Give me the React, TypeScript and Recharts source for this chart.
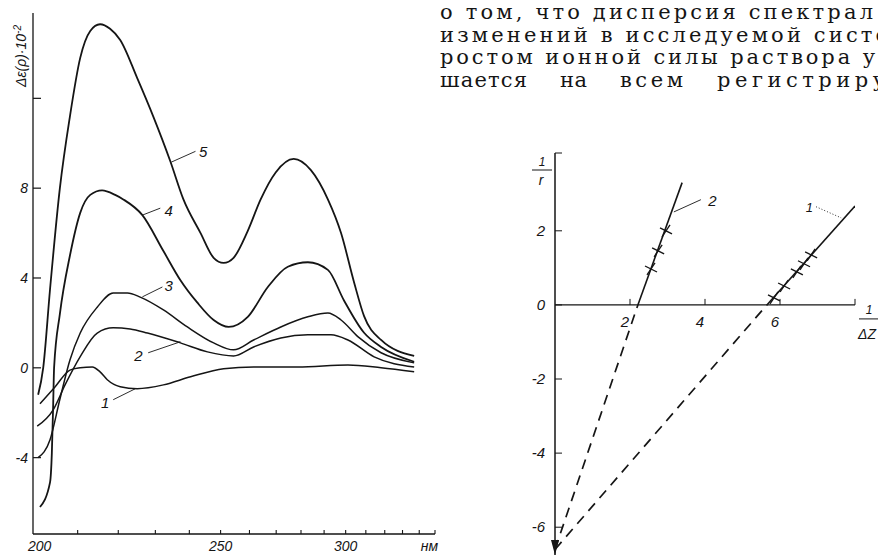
import React from 'react';
import {
  LineChart,
  ComposedChart,
  Line,
  Scatter,
  XAxis,
  YAxis,
  ReferenceLine,
  ReferenceDot,
} from 'recharts';

// ---------------- left chart: spectra, x in nm (axis linear in wavenumber) ----------------
const nmTicks = [200, 210, 220, 230, 240, 250, 260, 270, 280, 290, 300, 310, 320, 330, 340, 350];
const nmTickLabels = ['200', '', '', '', '', '250', '', '', '', '', '300', '', '', '', '', 'нм'];
const epsTicks = [12, 8, 4, 0, -4];
const epsTickLabels = ['', '8', '4', '0', '-4'];

const curve1Nm = [201.5, 204.8, 208.2, 210.6, 213.5, 215.4, 217.2, 220.5, 225.0, 232.3, 240.4, 251.0, 261.5, 278.7, 301.1, 318.0, 336.9];
const curve1Val = [-1.6, -0.85, -0.1, 0, 0.04, -0.18, -0.53, -0.84, -0.93, -0.76, -0.4, -0.04, 0.04, 0.04, 0.13, 0, -0.18];

const curve2Nm = [200.9, 204.4, 207.1, 210.6, 214.7, 218.7, 223.1, 227.8, 237.3, 245.7, 254.4, 261.5, 271.8, 282.9, 293.1, 301.1, 314.3, 336.9];
const curve2Val = [-2.6, -1.87, -0.75, 0.5, 1.55, 1.78, 1.73, 1.55, 1.11, 0.71, 0.53, 0.93, 1.33, 1.47, 1.47, 1.24, 0.49, 0.04];

const curve3Nm = [201.1, 203.7, 205.9, 208.2, 210.6, 214.7, 218.7, 222.4, 225.8, 232.3, 239.4, 247.7, 254.4, 261.5, 271.8, 282.9, 291.7, 297.8, 306.1, 318.0, 336.9];
const curve3Val = [-4.0, -3.2, -1.4, 0.35, 1.55, 2.7, 3.33, 3.33, 3.15, 2.58, 1.82, 1.11, 0.8, 1.24, 1.82, 2.27, 2.44, 2.13, 1.38, 0.67, 0.22];

const curve4Nm = [201.5, 203.7, 204.1, 204.4, 204.6, 205.9, 208.2, 210.6, 213.0, 215.9, 219.2, 221.3, 226.4, 232.3, 237.3, 242.5, 247.7, 252.7, 259.4, 266.8, 274.6, 282.9, 291.7, 299.2, 309.1, 318.0, 336.9];
const curve4Val = [-6.2, -5.1, -3.8, -1.6, 0, 2.4, 5.0, 6.9, 7.7, 7.9, 7.7, 7.5, 6.8, 5.2, 3.9, 2.9, 2.13, 1.82, 2.27, 3.6, 4.5, 4.7, 4.36, 3.0, 1.56, 0.93, 0.27];

const curve5Nm = [201.1, 202.2, 203.7, 205.9, 208.2, 210.6, 213.0, 215.4, 217.9, 220.5, 225.0, 229.4, 234.3, 238.2, 243.5, 247.7, 251.0, 254.4, 259.4, 264.1, 269.8, 277.0, 284.2, 291.7, 297.8, 304.1, 309.1, 318.0, 336.9];
const curve5Val = [-1.2, 0, 3.5, 8.0, 11.2, 13.8, 15.0, 15.3, 15.1, 14.6, 12.9, 11.2, 9.2, 7.5, 6.0, 4.9, 4.67, 4.9, 6.1, 7.5, 8.7, 9.3, 8.8, 7.5, 6.0, 3.8, 2.3, 1.24, 0.53];

const curveNames = ['1', '2', '3', '4', '5'];
// leader lines for curve numbers (nm, value)
const leaderFromNm = [224.5, 237.3, 226.4, 226.4, 234.6];
const leaderFromVal = [-0.93, 1.16, 3.16, 6.8, 9.16];
const leaderToNm = [218.7, 228.0, 232.0, 231.4, 241.9];
const leaderToVal = [-1.42, 0.67, 3.6, 7.11, 9.64];
const labelNm = [216.7, 225.3, 233.8, 233.8, 244.3];
const labelVal = [-1.56, 0.53, 3.64, 7.0, 9.6];

// ---------------- right chart: 1/r vs 1/Δ ----------------
const rYTicks = [2, 0, -2, -4, -6];
const rXTicks = [2, 4, 6];

const line2SolidX = [2.21, 3.39];
const line2SolidY = [0, 3.3];
const line2DashX = [0, 2.21];
const line2DashY = [-6.6, 0];
const line2MarkX = [2.56, 2.75, 2.96];
const line2MarkY = [0.97, 1.46, 2.0];

const line1SolidX = [5.65, 8.0];
const line1SolidY = [0, 2.67];
const line1DashX = [0, 5.65];
const line1DashY = [-6.6, 0];
const line1MarkX = [5.84, 6.11, 6.45, 6.64, 6.83];
const line1MarkY = [0.19, 0.51, 0.89, 1.11, 1.35];

// ---------------- page text ----------------
const textLines = [
  'о том, что дисперсия спектрал',
  'изменений в исследуемой систе',
  'ростом ионной силы раствора у',
];
const lastLineWords = ['шается', 'на', 'всем', 'регистриру'];

// ---------------- helpers ----------------
const INK = '#151515';
const AXIS_FONT = '"Liberation Sans", "DejaVu Sans", sans-serif';
const SERIF = '"DejaVu Serif", "Liberation Serif", serif';

const spectrum = (nm: number[], v: number[]) => nm.map((n, i) => ({ nm: n, v: v[i] }));
const pairs = (xs: number[], ys: number[]) => xs.map((x, i) => ({ x, y: ys[i] }));
const nu = (nm: number) => 1e4 / nm;

const spectra = [
  spectrum(curve1Nm, curve1Val),
  spectrum(curve2Nm, curve2Val),
  spectrum(curve3Nm, curve3Val),
  spectrum(curve4Nm, curve4Val),
  spectrum(curve5Nm, curve5Val),
];

const LeftYTick = (p: any) => {
  const { x, y, payload } = p;
  const i = epsTicks.indexOf(payload.value);
  return (
    <g>
      <line x1={x} y1={y} x2={x + 8} y2={y} stroke={INK} strokeWidth={1.2} />
      <text x={x - 5} y={y} dy={5} textAnchor="end" fontFamily={AXIS_FONT} fontStyle="italic" fontSize={14} fill={INK}>
        {epsTickLabels[i]}
      </text>
    </g>
  );
};

const LeftXTick = (p: any) => {
  const { x, y, payload } = p;
  const nm = Math.round(1e4 / payload.value);
  const i = nmTicks.indexOf(nm);
  const last = nmTicks.length - 1;
  const anchor = i === 0 ? 'start' : i === last ? 'end' : 'middle';
  const dx = i === 0 ? -5 : i === last ? 3 : 0;
  return (
    <g>
      {i > 0 && <line x1={x} y1={y} x2={x} y2={y - 4} stroke={INK} strokeWidth={1.1} />}
      <text x={x + dx} y={y + 17} textAnchor={anchor} fontFamily={AXIS_FONT} fontStyle="italic" fontSize={14} fill={INK}>
        {nmTickLabels[i]}
      </text>
    </g>
  );
};

const RightYTick = (p: any) => {
  const { x, y, payload } = p;
  return (
    <g>
      <line x1={x} y1={y} x2={x + 7} y2={y} stroke={INK} strokeWidth={1} />
      <text x={x - 10} y={y} dy={5} textAnchor="end" fontFamily={AXIS_FONT} fontStyle="italic" fontSize={15} fill={INK}>
        {payload.value}
      </text>
    </g>
  );
};

const Cross = (p: any) => {
  const { cx, cy } = p;
  return (
    <g stroke={INK} strokeWidth={1.3}>
      <line x1={cx - 6} y1={cy - 3} x2={cx + 6} y2={cy + 3} />
      <line x1={cx - 4} y1={cy + 6} x2={cx + 4} y2={cy - 6} />
    </g>
  );
};

export default function App() {
  return (
    <div style={{ position: 'absolute', left: 0, top: 0, width: 878, height: 557, background: '#fff', overflow: 'hidden' }}>
      {/* left chart */}
      <div style={{ position: 'absolute', left: 0, top: 0 }}>
        <LineChart width={450} height={557} margin={{ top: 13, right: 15, bottom: 22, left: 32 }}>
          <XAxis
            type="number"
            dataKey={(d: any) => nu(d.nm)}
            domain={[nu(350), nu(200)]}
            reversed
            allowDataOverflow
            ticks={nmTicks.map(nu)}
            interval={0}
            height={1}
            tickSize={0}
            tickMargin={0}
            tickLine={false}
            tick={<LeftXTick />}
            axisLine={{ stroke: INK, strokeWidth: 1.3 }}
          />
          <YAxis
            type="number"
            domain={[-7.4, 15.8]}
            allowDataOverflow
            ticks={epsTicks}
            interval={0}
            width={1}
            tickSize={0}
            tickMargin={0}
            tickLine={false}
            tick={<LeftYTick />}
            axisLine={{ stroke: INK, strokeWidth: 1.3 }}
          />
          {spectra.map((d, i) => (
            <Line
              key={curveNames[i]}
              data={d}
              dataKey="v"
              type="monotone"
              dot={false}
              stroke={INK}
              strokeWidth={i >= 3 ? 1.8 : 1.5}
              isAnimationActive={false}
            />
          ))}
          {curveNames.map((name, i) => (
            <ReferenceLine
              key={'lead' + name}
              segment={[
                { x: nu(leaderFromNm[i]), y: leaderFromVal[i] },
                { x: nu(leaderToNm[i]), y: leaderToVal[i] },
              ]}
              stroke={INK}
              strokeWidth={0.9}
              ifOverflow="visible"
            />
          ))}
          {curveNames.map((name, i) => (
            <ReferenceDot
              key={'lab' + name}
              x={nu(labelNm[i])}
              y={labelVal[i]}
              r={0}
              ifOverflow="visible"
              shape={(p: any) => (
                <text x={p.cx} y={p.cy} dy={5} textAnchor="middle" fontFamily={AXIS_FONT} fontStyle="italic" fontSize={15} fill={INK}>
                  {name}
                </text>
              )}
            />
          ))}
          <ReferenceDot
            x={nu(200)}
            y={15.8}
            r={0}
            ifOverflow="visible"
            shape={(p: any) => (
              <text
                transform={`translate(${p.cx - 7}, ${p.cy + 43}) rotate(-90)`}
                textAnchor="middle"
                fontFamily={AXIS_FONT}
                fontStyle="italic"
                fontSize={14}
                fill={INK}
              >
                Δε(ρ)·10<tspan dy={-5} fontSize={10}>-2</tspan>
              </text>
            )}
          />
        </LineChart>
      </div>

      {/* right chart */}
      <div style={{ position: 'absolute', left: 480, top: 110 }}>
        <ComposedChart width={398} height={447} margin={{ top: 43, right: 23, bottom: 2, left: 74 }}>
          <XAxis type="number" dataKey="x" domain={[0, 8]} allowDataOverflow hide height={0} />
          <YAxis
            type="number"
            domain={[-6.75, 4.1]}
            allowDataOverflow
            ticks={rYTicks}
            interval={0}
            width={1}
            tickSize={0}
            tickMargin={0}
            tickLine={false}
            tick={<RightYTick />}
            axisLine={{ stroke: INK, strokeWidth: 1.5 }}
          />
          <ReferenceLine y={0} stroke={INK} strokeWidth={1.3} />
          {rXTicks.map((t) => (
            <ReferenceDot
              key={'xt' + t}
              x={t}
              y={0}
              r={0}
              ifOverflow="visible"
              shape={(p: any) => (
                <g>
                  <line x1={p.cx} y1={p.cy} x2={p.cx} y2={p.cy - 6} stroke={INK} strokeWidth={1} />
                  <text x={p.cx - 5} y={p.cy + 22} textAnchor="middle" fontFamily={AXIS_FONT} fontStyle="italic" fontSize={15} fill={INK}>
                    {t}
                  </text>
                </g>
              )}
            />
          ))}
          {/* x axis end mark and label 1/Δ */}
          <ReferenceDot
            x={8}
            y={0}
            r={0}
            ifOverflow="visible"
            shape={(p: any) => (
              <g fontFamily={AXIS_FONT} fontStyle="italic" fill={INK}>
                <line x1={p.cx} y1={p.cy} x2={p.cx} y2={p.cy - 6} stroke={INK} strokeWidth={1} />
                <text x={p.cx + 14} y={p.cy + 9} fontSize={12} textAnchor="middle">1</text>
                <line x1={p.cx + 4} y1={p.cy + 14} x2={p.cx + 26} y2={p.cy + 14} stroke={INK} strokeWidth={1} />
                <text x={p.cx + 3} y={p.cy + 34} fontSize={14}>ΔZ</text>
              </g>
            )}
          />
          {/* y axis top mark and label 1/r */}
          <ReferenceDot
            x={0}
            y={4.1}
            r={0}
            ifOverflow="visible"
            shape={(p: any) => (
              <g fontFamily={AXIS_FONT} fontStyle="italic" fill={INK}>
                <line x1={p.cx} y1={p.cy} x2={p.cx + 7} y2={p.cy} stroke={INK} strokeWidth={1} />
                <text x={p.cx - 13} y={p.cy + 13} fontSize={12} textAnchor="middle">1</text>
                <line x1={p.cx - 23} y1={p.cy + 17} x2={p.cx - 3} y2={p.cy + 17} stroke={INK} strokeWidth={1} />
                <text x={p.cx - 14} y={p.cy + 32} fontSize={14} textAnchor="middle">r</text>
              </g>
            )}
          />
          {/* arrow at bottom of y axis */}
          <ReferenceDot
            x={0}
            y={-6.75}
            r={0}
            ifOverflow="visible"
            shape={(p: any) => (
              <path d={`M${p.cx - 4},${p.cy - 15} L${p.cx + 4},${p.cy - 15} L${p.cx},${p.cy} Z`} fill={INK} />
            )}
          />
          <Line data={pairs(line2DashX, line2DashY)} dataKey="y" type="linear" dot={false} stroke={INK} strokeWidth={1.7} strokeDasharray="10 7" isAnimationActive={false} />
          <Line data={pairs(line1DashX, line1DashY)} dataKey="y" type="linear" dot={false} stroke={INK} strokeWidth={1.7} strokeDasharray="10 7" isAnimationActive={false} />
          <Line data={pairs(line2SolidX, line2SolidY)} dataKey="y" type="linear" dot={false} stroke={INK} strokeWidth={1.6} isAnimationActive={false} />
          <Line data={pairs(line1SolidX, line1SolidY)} dataKey="y" type="linear" dot={false} stroke={INK} strokeWidth={1.6} isAnimationActive={false} />
          <Scatter data={pairs(line2MarkX, line2MarkY)} dataKey="y" shape={<Cross />} isAnimationActive={false} />
          <Scatter data={pairs(line1MarkX, line1MarkY)} dataKey="y" shape={<Cross />} isAnimationActive={false} />
          {/* curve number leaders */}
          <ReferenceLine segment={[{ x: 3.17, y: 2.51 }, { x: 3.89, y: 2.84 }]} stroke={INK} strokeWidth={0.9} ifOverflow="visible" />
          <ReferenceDot
            x={4.2}
            y={2.84}
            r={0}
            ifOverflow="visible"
            shape={(p: any) => (
              <text x={p.cx} y={p.cy} dy={6} textAnchor="middle" fontFamily={AXIS_FONT} fontStyle="italic" fontSize={15} fill={INK}>2</text>
            )}
          />
          <ReferenceLine segment={[{ x: 6.96, y: 2.65 }, { x: 7.63, y: 2.35 }]} stroke={INK} strokeWidth={0.9} strokeDasharray="1 2" ifOverflow="visible" />
          <ReferenceDot
            x={6.78}
            y={2.65}
            r={0}
            ifOverflow="visible"
            shape={(p: any) => (
              <text x={p.cx} y={p.cy} dy={5} textAnchor="middle" fontFamily={AXIS_FONT} fontStyle="italic" fontSize={13} fill={INK}>1</text>
            )}
          />
        </ComposedChart>
      </div>

      {/* running text of the page */}
      <svg width={878} height={110} style={{ position: 'absolute', left: 0, top: 0 }}>
        <g fontFamily={SERIF} fontSize={21} fill={INK}>
          <text x={440} y={19} textLength={433} lengthAdjust="spacing">{textLines[0]}</text>
          <text x={440} y={42} textLength={448} lengthAdjust="spacing">{textLines[1]}</text>
          <text x={440} y={64} textLength={435} lengthAdjust="spacing">{textLines[2]}</text>
          <text x={440} y={87} textLength={87} lengthAdjust="spacing">{lastLineWords[0]}</text>
          <text x={560} y={87} textLength={27} lengthAdjust="spacing">{lastLineWords[1]}</text>
          <text x={620} y={87} textLength={63} lengthAdjust="spacing">{lastLineWords[2]}</text>
          <text x={717} y={87} textLength={168} lengthAdjust="spacing">{lastLineWords[3]}</text>
        </g>
      </svg>
    </div>
  );
}
